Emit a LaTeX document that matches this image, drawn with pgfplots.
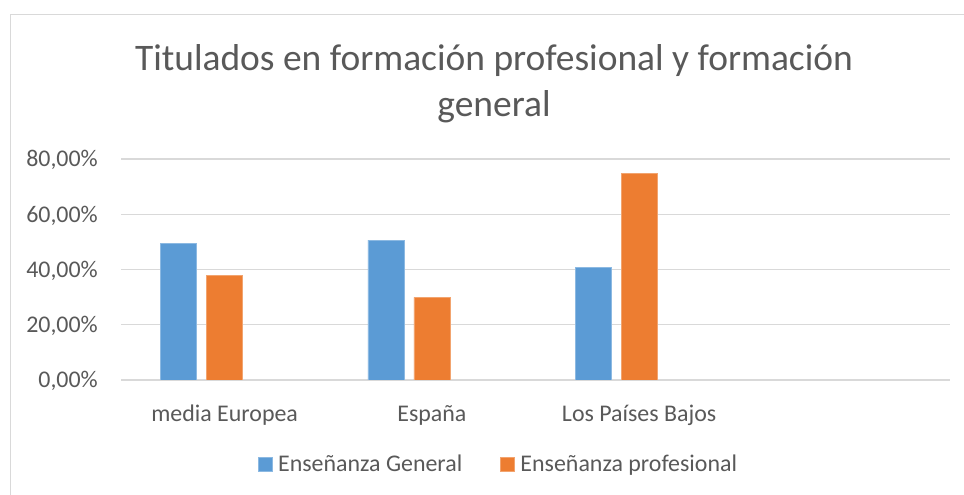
\documentclass[border=0pt]{standalone}
\usepackage{pgfplots}
\pgfplotsset{compat=1.18}
\usepackage{fontspec}
\setmainfont{Carlito}
\definecolor{cblue}{HTML}{5B9BD5}
\definecolor{corange}{HTML}{ED7D31}
\definecolor{gridc}{HTML}{D9D9D9}
\definecolor{txt}{HTML}{595959}
\begin{document}
\begin{tikzpicture}[x=1bp,y=1bp]
\useasboundingbox (0,0) rectangle (964,495);
\fill[white] (0,0) rectangle (964,495);
\draw[gridc, line width=1bp] (10,0) -- (10,480.5) -- (964,480.5);
\node[anchor=base, font=\fontsize{37.6}{42}\selectfont, text=txt, inner sep=0] at (494,424.3) {Titulados en formación profesional y formación};
\node[anchor=base, font=\fontsize{37.6}{42}\selectfont, text=txt, inner sep=0] at (494,378.5) {general};
\begin{axis}[
  scale only axis,
  width=829bp, height=221bp,
  at={(121bp,115bp)}, anchor=south west,
  xmin=-0.5, xmax=3.5, ymin=0, ymax=80,
  axis line style={draw=none},
  tick style={draw=none},
  ymajorgrids, grid style={gridc, line width=1.1bp},
  ytick={0,20,40,60,80},
  yticklabels={{0,00\%},{20,00\%},{40,00\%},{60,00\%},{80,00\%}},
  yticklabel style={anchor=base east, inner sep=0, xshift=-23bp, yshift=-8bp, font=\fontsize{24}{28}\selectfont, text=txt},
  xtick={0,1,2},
  xticklabels={media Europea, España, Los Países Bajos},
  xticklabel style={anchor=base, inner sep=0, yshift=-37.5bp, font=\fontsize{24}{28}\selectfont, text=txt},
  ybar, bar width=0.1737,
  legend style={at={(498.5bp-121bp,-84bp)}, anchor=center, draw=none, fill=none, legend columns=2,
    font=\fontsize{24}{28}\selectfont, text=txt,
    /tikz/every even column/.append style={column sep=36bp}},
  legend image code/.code={\fill[#1] (0bp,-7bp) rectangle (14bp,7bp); \path[draw=none,fill=none] (0bp,0bp) -- (18bp,0bp);},
]
\addplot[fill=cblue, draw=cblue!70!white, bar shift=-0.222] coordinates {(0,49.5) (1,50.6) (2,40.7)};
\addplot[fill=corange, draw=corange!70!white, bar shift=0] coordinates {(0,37.9) (1,29.9) (2,74.9)};
\legend{Enseñanza General, Enseñanza profesional}
\end{axis}
\end{tikzpicture}
\end{document}
